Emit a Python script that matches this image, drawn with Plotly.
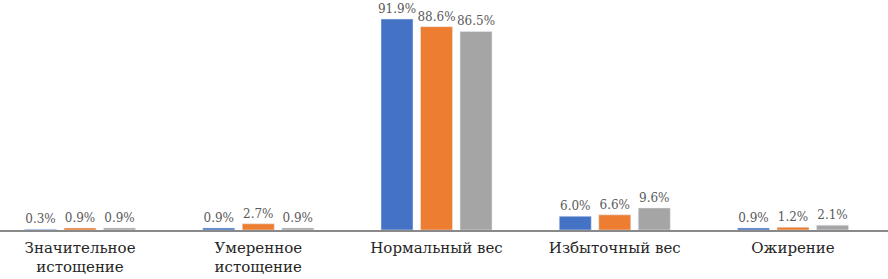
import plotly.graph_objects as go

categories = ["Значительное<br>истощение", "Умеренное<br>истощение", "Нормальный вес", "Избыточный вес", "Ожирение"]
series_names = ["Группа 1", "Группа 2", "Группа 3"]
series_values = [
    [0.3, 0.9, 91.9, 6.0, 0.9],
    [0.9, 2.7, 88.6, 6.6, 1.2],
    [0.9, 0.9, 86.5, 9.6, 2.1],
]
colors = ["#4472C4", "#ED7D31", "#A5A5A5"]

SERIF = "DejaVu Serif"

fig = go.Figure()
for name, vals, c in zip(series_names, series_values, colors):
    fig.add_trace(go.Bar(
        x=list(range(len(categories))), y=vals, name=name, marker_color=c,
        text=[f"{v:.1f}%" for v in vals], textposition="outside",
        constraintext="none",
        textfont=dict(family=SERIF, size=12, color="#595959"),
        cliponaxis=False,
    ))

fig.update_layout(
    width=888, height=279,
    margin=dict(l=0, r=0, t=0, b=49),
    barmode="group", bargap=0.335, bargroupgap=0.19,
    plot_bgcolor="white", paper_bgcolor="white",
    showlegend=False,
    font=dict(family=SERIF, size=15, color="#262626"),
)
fig.update_xaxes(showline=True, linecolor="#898989", linewidth=1.5, ticks="",
                 automargin=False, ticklabelstandoff=3,
                 range=[-0.449, 4.533],
                 tickmode="array", tickvals=list(range(len(categories))), ticktext=categories,
                 tickfont=dict(family=SERIF, size=15, color="#262626"))
fig.update_yaxes(range=[0, 100.2], visible=False, showgrid=False, automargin=False)

fig.write_html("out.html", config={"displayModeBar": False},
               post_script="document.body.style.margin='0';document.body.style.padding='0';")
